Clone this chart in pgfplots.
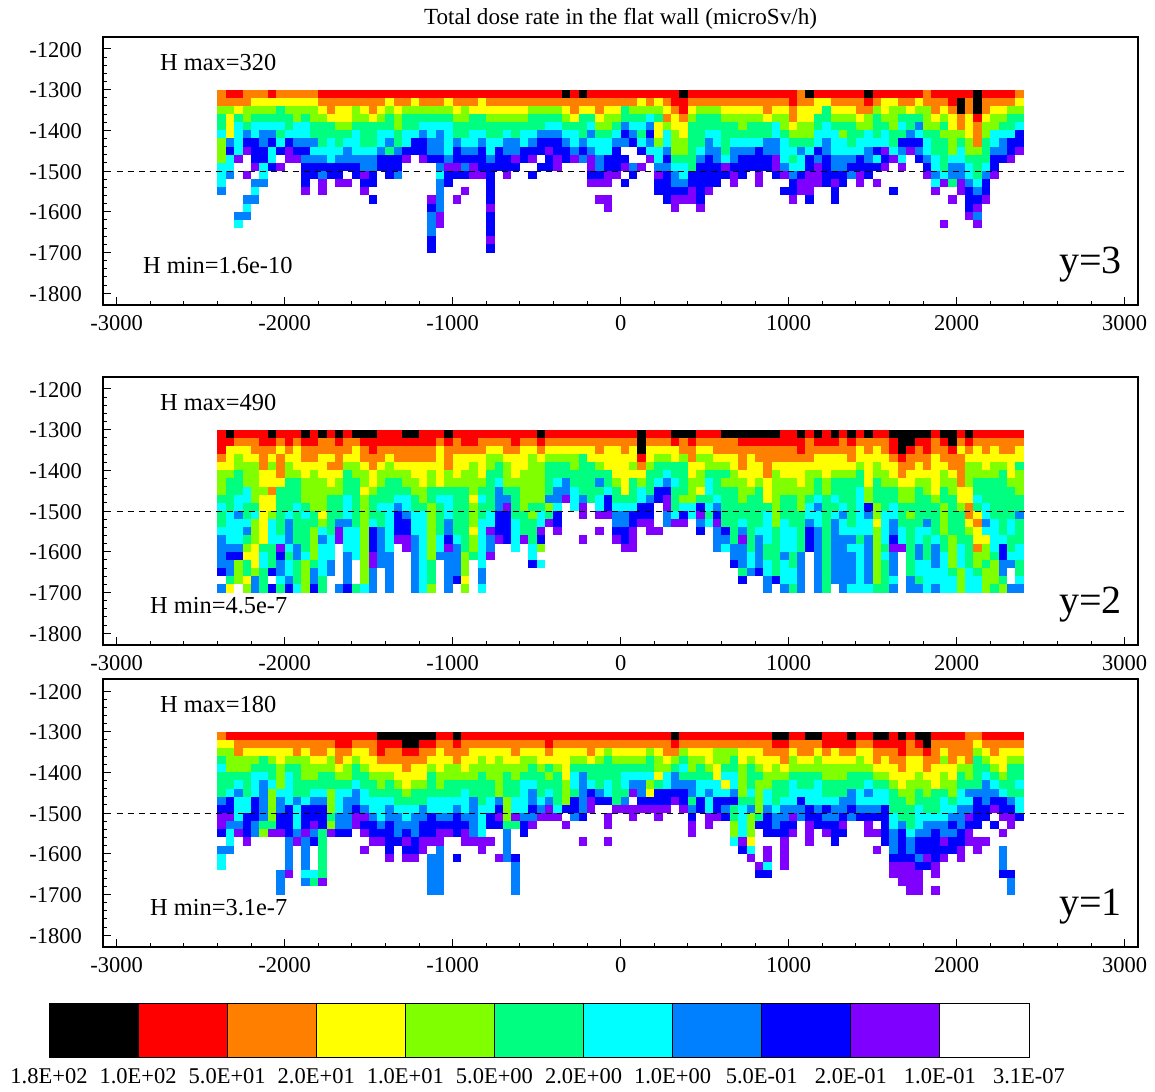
\documentclass[border=0pt]{standalone}
\usepackage{fontspec}
\setmainfont{Liberation Serif}
\usepackage{pgfplots}
\usepackage{pgfplotstable}
\pgfplotsset{compat=1.18}
\pgfdeclareplotmark{cell}{\pgfpathrectangle{\pgfpoint{-4.3pt}{-4.15pt}}{\pgfpoint{8.6pt}{8.3pt}}\pgfusepathqfill}
% level: 0 white, 1 purple, 2 blue, 3 azure, 4 cyan, 5 spring, 6 lime, 7 yellow, 8 orange, 9 red, 10 black
\pgfplotstableread[header=false]{
-1310 8 9 9 8 8 8 9 8 8 8 8 8 9 9 9 9 9 9 9 9 9 9 9 9 9 9 9 9 9 9 9 9  9 9 9 9 9 9 9 9 9 10 9 10 9 9 9 9 9 9 9 9 9 9 9 10 9 9 9 9 9 9 9 9 9  9 9 9 9 8 10 9 9 9 9 9 9 10 9 9 9 9 9 9 8 9 9 9 9 9 10 9 9 9 9 8
-1330 8 8 8 8 7 7 7 7 7 7 7 7 8 8 8 8 8 8 8 8 7 8 8 7 8 8 8 7 8 8 8 7  8 8 8 8 8 8 8 8 8 8 8 8 8 8 8 8 8 8 7 8 7 8 9 9 8 8 8 8 8 8 8 8 8  8 8 8 9 8 8 7 7 8 8 8 8 9 8 7 7 8 8 7 8 8 8 9 10 8 10 8 8 8 8 7
-1350 6 6 7 6 6 6 6 5 6 6 6 6 7 8 7 7 6 7 8 7 6 7 6 6 6 6 6 6 7 6 7 7  7 7 7 7 7 6 6 6 6 7 8 7 7 8 7 7 5 6 6 6 6 7 8 9 7 6 6 6 7 7 7 7 7  8 7 7 8 7 7 7 5 7 7 7 8 8 6 7 6 6 7 6 6 8 7 8 10 8 10 8 7 7 6 6
-1370 5 7 5 6 5 5 5 5 5 6 5 6 6 7 7 7 6 6 7 6 5 6 5 5 5 5 5 5 6 6 5 5  6 6 6 6 6 5 5 5 5 6 7 5 5 7 6 6 5 5 5 4 5 8 7 8 6 5 5 5 6 6 6 6 6  7 6 6 8 7 7 5 5 6 6 6 7 6 5 6 6 5 5 5 6 7 6 7 8 7 9 7 6 6 5 5
-1390 5 7 4 5 4 4 4 4 5 4 4 5 5 5 6 6 5 5 5 5 5 6 5 5 4 4 4 4 5 5 5 5  5 5 5 5 5 5 5 4 4 5 5 5 4 6 6 5 3 4 4 3 7 6 7 7 5 5 5 5 5 5 6 5 5  5 4 6 7 6 6 5 4 5 5 5 6 6 5 5 6 4 5 3 6 6 5 7 8 7 8 6 6 5 5 4
-1410 4 7 4 3 4 3 3 5 4 4 4 5 5 5 5 5 4 5 5 4 4 5 4 4 3 4 3 4 5 5 4 4  5 5 4 5 4 4 3 3 3 4 4 5 3 5 5 4 2 3 5 2 7 4 6 7 5 5 4 4 5 5 5 5 5  5 4 5 6 6 6 4 4 4 6 5 5 4 5 4 5 5 3 4 5 5 6 6 6 7 8 6 4 4 4 2
-1430 6 3 4 2 2 3 2 4 2 3 3 3 5 4 5 4 4 5 5 4 3 5 4 2 2 3 3 4 3 4 4 3  4 4 3 3 4 3 2 2 2 3 4 3 4 4 4 3 3 2 4 3 6 4 6 6 5 5 3 4 5 4 4 4 4  3 3 4 5 5 5 4 3 4 4 5 4 4 4 4 5 2 2 2 4 5 5 6 5 6 8 5 4 3 2 2
-1450 6 2 4 1 2 2 4 2 1 2 2 4 4 4 4 3 4 4 4 3 5 3 2 2 2 3 3 4 2 3 3 2  4 2 3 3 2 2 2 1 2 2 3 2 3 4 4 2 0 0 2 4 4 3 6 6 5 4 3 3 5 3 3 3 2  3 3 4 4 3 4 2 3 4 4 4 4 3 2 1 4 3 1 3 4 5 5 6 4 6 6 5 3 3 2 1
-1470 6 4 1 0 2 2 4 0 1 1 3 3 3 4 3 3 3 3 3 2 2 2 1 0 1 2 2 3 2 2 2 2  3 2 2 1 2 1 0 2 1 2 1 3 1 3 2 2 2 0 0 1 4 2 5 5 5 3 2 3 4 3 2 2 2  2 1 4 5 4 2 3 2 3 3 3 2 3 4 2 1 4 0 2 3 4 5 4 4 5 5 5 2 2 1 0
-1490 4 4 0 0 1 4 2 1 0 0 2 2 2 2 2 2 2 3 3 2 2 2 0 0 0 0 3 1 1 3 1 2  2 2 2 2 0 0 2 2 1 0 0 0 1 3 2 2 1 3 1 0 3 3 4 4 5 2 2 2 1 2 2 2 2  2 1 3 4 4 2 1 2 3 3 2 2 2 2 1 0 1 0 0 2 4 5 3 3 4 5 4 2 0 0 0
-1510 4 3 0 1 0 4 0 0 0 0 2 2 3 2 2 0 2 1 2 0 2 3 0 0 0 0 4 2 2 2 1 1  2 0 1 0 0 2 0 0 0 0 0 0 2 2 1 1 0 2 0 0 1 2 3 4 2 2 2 2 2 1 2 0 1  0 2 1 3 2 1 1 2 2 2 3 1 2 0 0 0 0 0 0 1 3 4 3 3 4 5 3 1 0 0 0
-1530 4 0 0 0 3 3 0 0 0 0 2 0 1 0 1 1 0 2 2 0 0 0 0 0 0 0 3 2 0 0 0 0  2 0 0 0 0 0 0 0 0 0 0 0 1 1 1 0 2 0 0 0 2 2 3 3 2 2 2 2 0 1 0 0 1  0 0 0 2 1 1 1 2 1 2 0 1 0 1 0 0 0 0 0 0 4 1 5 1 3 4 2 0 0 0 0
-1550 3 0 0 0 4 0 0 0 0 0 1 0 1 0 0 0 0 1 0 0 0 0 0 0 0 0 3 0 0 1 0 0  2 0 0 0 0 0 0 0 0 0 0 0 0 0 0 0 0 0 0 0 2 2 2 2 1 2 1 0 0 0 0 0 0  0 0 2 2 1 1 0 0 2 0 0 0 0 0 0 2 0 0 0 0 1 0 0 1 2 3 2 0 0 0 0
-1570 0 0 0 3 3 0 0 0 0 0 0 0 0 0 0 0 0 0 2 0 0 0 0 0 0 1 3 0 1 0 0 0  2 0 0 0 0 0 0 0 0 0 0 0 0 1 1 0 0 0 0 0 0 2 1 1 1 2 0 0 0 0 0 0 0  0 0 0 1 0 2 0 0 2 0 0 0 0 0 0 0 0 0 0 0 0 0 1 0 2 2 1 0 0 0 0
-1590 0 0 0 4 0 0 0 0 0 0 0 0 0 0 0 0 0 0 0 0 0 0 0 0 0 2 3 0 0 0 0 0  1 0 0 0 0 0 0 0 0 0 0 0 0 0 1 0 0 0 0 0 0 0 1 0 0 1 0 0 0 0 0 0 0  0 0 0 0 0 0 0 0 0 0 0 0 0 0 0 0 0 0 0 0 0 0 0 0 2 1 0 0 0 0 0
-1610 0 0 3 3 0 0 0 0 0 0 0 0 0 0 0 0 0 0 0 0 0 0 0 0 0 3 1 0 0 0 0 0  2 0 0 0 0 0 0 0 0 0 0 0 0 0 0 0 0 0 0 0 0 0 0 0 0 0 0 0 0 0 0 0 0  0 0 0 0 0 0 0 0 0 0 0 0 0 0 0 0 0 0 0 0 0 0 0 0 1 3 0 0 0 0 0
-1630 0 0 4 0 0 0 0 0 0 0 0 0 0 0 0 0 0 0 0 0 0 0 0 0 0 3 1 0 0 0 0 0  2 0 0 0 0 0 0 0 0 0 0 0 0 0 0 0 0 0 0 0 0 0 0 0 0 0 0 0 0 0 0 0 0  0 0 0 0 0 0 0 0 0 0 0 0 0 0 0 0 0 0 0 0 0 1 0 0 0 1 0 0 0 0 0
-1650 0 0 0 0 0 0 0 0 0 0 0 0 0 0 0 0 0 0 0 0 0 0 0 0 0 3 0 0 0 0 0 0  2 0 0 0 0 0 0 0 0 0 0 0 0 0 0 0 0 0 0 0 0 0 0 0 0 0 0 0 0 0 0 0 0  0 0 0 0 0 0 0 0 0 0 0 0 0 0 0 0 0 0 0 0 0 0 0 0 0 0 0 0 0 0 0
-1670 0 0 0 0 0 0 0 0 0 0 0 0 0 0 0 0 0 0 0 0 0 0 0 0 0 2 0 0 0 0 0 0  1 0 0 0 0 0 0 0 0 0 0 0 0 0 0 0 0 0 0 0 0 0 0 0 0 0 0 0 0 0 0 0 0  0 0 0 0 0 0 0 0 0 0 0 0 0 0 0 0 0 0 0 0 0 0 0 0 0 0 0 0 0 0 0
-1690 0 0 0 0 0 0 0 0 0 0 0 0 0 0 0 0 0 0 0 0 0 0 0 0 0 2 0 0 0 0 0 0  2 0 0 0 0 0 0 0 0 0 0 0 0 0 0 0 0 0 0 0 0 0 0 0 0 0 0 0 0 0 0 0 0  0 0 0 0 0 0 0 0 0 0 0 0 0 0 0 0 0 0 0 0 0 0 0 0 0 0 0 0 0 0 0
}\tabA
\pgfplotstableread[header=false]{
-1310 9 10 9 9 9 9 10 9 9 9 10 9 10 9 10 9 10 10 10 9 9 9 10 10 9 9 9 10 9 9 9 9  9 9 9 9 9 9 10 9 9 9 9 9 9 9 9 9 9 9 10 9 9 9 10 10 10 9 9 9 10 10 10 10 10  10 10 9 9 10 9 10 9 10 9 10 9 10 9 9 10 10 10 10 10 9 10 10 9 10 9 9 9 9 9 9
-1330 9 9 8 8 8 9 9 8 9 8 9 9 8 8 9 8 8 9 9 9 9 9 9 9 9 9 8 9 8 9 9 8  8 8 8 9 8 8 9 8 8 8 8 8 8 8 8 8 8 8 10 8 8 8 9 8 9 8 8 8 8 8 9 9 9  9 9 9 9 9 8 9 9 9 8 9 8 8 8 8 9 10 10 9 9 8 9 10 8 9 8 8 8 8 8 8
-1350 9 7 7 7 8 8 8 7 8 7 8 8 8 8 8 8 7 8 9 8 8 8 8 8 8 8 7 8 8 8 8 8  7 7 8 8 7 7 8 7 7 7 7 7 7 8 7 7 8 7 10 7 7 7 7 8 8 7 7 8 8 8 8 8 8  8 8 8 8 9 8 8 8 8 8 8 7 8 7 8 9 10 9 8 9 8 8 9 7 8 7 8 7 8 8 7
-1370 8 7 6 7 7 8 7 8 7 7 8 8 7 7 8 7 7 8 8 8 7 8 8 8 8 8 7 8 7 7 7 7  6 6 7 7 7 6 7 6 6 6 6 5 7 7 7 7 7 7 9 7 6 6 7 6 8 6 6 7 7 7 8 7 8  8 8 8 8 8 8 7 7 7 7 8 7 7 7 7 8 9 8 8 8 7 8 8 8 7 7 7 7 7 7 7
-1390 7 7 6 6 6 8 6 8 6 7 7 7 7 8 8 6 6 7 8 7 6 7 7 7 7 7 7 8 7 7 6 7  6 5 6 7 7 6 6 5 5 5 6 5 5 6 7 7 7 6 8 6 5 5 5 5 7 7 6 6 6 7 8 7 7  8 7 7 7 7 7 7 7 7 7 7 6 7 6 7 7 8 8 7 8 7 7 8 8 6 6 7 6 6 7 5
-1410 6 6 5 6 6 7 7 8 6 6 7 6 7 7 7 5 6 6 7 6 6 6 6 7 7 6 7 6 7 6 6 7  5 5 6 7 6 6 6 5 5 5 5 5 5 5 5 7 7 7 7 5 5 4 5 5 7 6 5 5 5 6 7 7 7  8 6 7 7 7 6 6 7 6 6 6 5 7 6 6 7 8 7 7 7 7 6 7 8 6 6 6 6 5 7 6
-1430 6 5 5 6 6 7 7 7 5 5 6 6 6 7 6 5 5 6 7 6 5 5 6 6 7 6 7 6 6 6 6 6  5 4 6 6 6 6 6 5 4 3 5 5 5 3 5 6 7 5 6 5 4 3 4 5 6 6 4 5 6 6 6 7 6  7 6 6 6 7 6 5 6 5 5 5 5 7 5 6 6 7 7 6 6 7 6 6 8 6 5 5 5 5 6 6
-1450 6 5 5 4 6 6 8 5 5 5 6 6 6 6 6 5 5 7 6 5 5 5 5 6 6 5 5 5 5 5 6 5  5 3 5 5 6 6 6 5 3 3 4 5 5 5 4 5 7 5 4 5 2 2 5 5 6 7 4 5 5 5 6 6 5  7 6 6 6 6 6 5 6 5 5 5 4 6 5 5 5 6 6 5 6 7 5 6 7 7 5 5 5 5 5 6
-1470 5 5 4 4 6 7 7 5 5 5 6 6 6 5 5 4 5 6 5 5 5 4 4 5 6 5 4 4 5 5 7 4  5 3 3 5 6 6 6 3 3 1 4 3 5 4 2 5 5 5 4 3 2 1 5 6 6 5 5 4 5 5 6 5 5  7 6 5 5 6 5 4 5 4 5 5 4 6 5 5 5 6 6 5 5 6 5 5 7 7 4 5 5 5 5 5
-1490 4 5 4 5 5 7 7 5 5 4 5 6 6 5 5 4 5 6 5 4 4 3 4 5 5 6 5 4 5 5 6 5  5 3 1 5 6 5 5 6 4 0 4 1 0 4 2 4 4 4 2 2 0 1 5 4 4 2 4 3 5 5 5 5 5  5 6 5 5 6 4 3 5 5 4 5 4 2 6 5 4 5 5 5 5 5 6 5 6 8 5 4 5 5 5 5
-1510 5 4 3 5 4 7 6 5 4 5 4 5 7 5 5 4 5 6 5 5 4 2 3 4 4 6 5 4 5 5 6 5  4 2 2 5 5 6 4 5 2 0 0 1 0 1 1 3 3 2 2 2 0 3 4 2 4 1 5 2 5 5 5 5 5  4 6 5 5 5 4 4 5 4 3 5 4 3 6 4 4 5 6 5 5 5 6 5 5 8 7 4 5 5 5 3
-1530 5 4 4 4 6 7 4 5 3 5 5 5 6 5 3 3 5 6 4 5 4 2 2 4 4 6 5 3 5 5 6 4  4 2 2 4 5 5 4 1 2 0 0 0 0 0 0 3 3 2 1 1 0 3 1 1 0 3 4 1 5 5 4 5 5  4 6 4 5 5 3 4 5 3 4 5 4 4 7 4 3 5 5 5 3 5 6 5 5 7 8 3 4 5 4 5
-1550 4 4 4 3 6 7 4 5 3 5 5 6 4 5 1 4 4 6 2 3 4 2 2 4 4 6 5 3 5 5 7 4  1 2 2 4 5 5 1 0 1 0 0 0 0 1 0 2 2 1 0 1 1 0 0 0 0 2 0 3 2 5 3 5 4  4 5 4 4 5 2 3 5 3 4 4 4 4 6 4 3 4 5 4 4 5 6 5 5 6 7 4 4 5 4 5
-1570 3 4 4 5 6 7 4 4 3 5 5 6 3 4 1 4 4 6 2 3 4 1 1 3 4 6 4 2 4 5 6 4  3 1 2 4 1 5 2 0 0 0 0 1 0 0 0 1 2 1 0 0 0 0 0 0 0 0 0 3 3 5 1 5 3  4 5 4 4 5 2 3 5 3 3 3 5 3 6 4 2 4 5 4 5 4 5 6 5 5 7 7 4 4 5 5
-1590 3 3 3 6 7 5 5 1 4 3 5 6 4 4 0 4 4 6 2 3 4 0 1 3 4 6 4 1 3 5 6 4  3 0 0 4 0 4 6 0 0 0 0 0 0 0 0 0 1 1 0 0 0 0 0 0 0 0 0 3 4 3 3 5 3  5 5 4 4 5 2 3 5 3 3 4 4 3 6 5 1 1 5 3 5 3 5 6 4 5 8 6 4 2 5 4
-1610 3 2 2 7 7 4 5 2 5 3 4 6 4 4 0 3 4 6 1 3 3 0 0 3 4 6 3 3 3 6 5 4  1 0 0 0 0 4 0 0 0 0 0 0 0 0 0 0 0 0 0 0 0 0 0 0 0 0 0 0 0 3 3 4 3  5 5 3 5 3 0 3 5 3 3 3 4 3 6 4 3 0 5 3 5 3 4 6 4 5 6 6 5 2 4 4
-1630 3 3 6 5 7 4 5 3 4 5 6 5 4 3 0 3 0 6 1 3 3 0 0 3 4 5 0 3 3 6 0 4  0 0 0 0 0 2 4 0 0 0 0 0 0 0 0 0 0 0 0 0 0 0 0 0 0 0 0 0 0 2 3 4 3  4 5 4 5 3 0 3 5 3 3 3 4 3 6 5 3 0 5 4 4 3 4 6 4 5 6 5 6 3 3 5
-1650 2 3 6 5 6 5 2 3 4 5 6 3 4 3 0 3 0 6 3 0 3 0 0 3 4 5 0 3 3 6 0 3  0 0 0 0 0 0 0 0 0 0 0 0 0 0 0 0 0 0 0 0 0 0 0 0 0 0 0 0 0 0 5 3 2  4 5 4 4 3 0 3 5 3 3 3 4 3 6 5 3 0 5 4 4 4 4 5 6 4 5 6 6 3 0 5
-1670 0 5 6 7 3 5 0 4 3 5 6 3 5 0 0 3 0 6 3 0 3 0 0 3 4 5 0 3 2 7 0 3  0 0 0 0 0 0 0 0 0 0 0 0 0 0 0 0 0 0 0 0 0 0 0 0 0 0 0 0 0 0 2 0 0  3 2 4 4 3 0 3 5 3 3 3 4 3 6 5 4 0 3 5 4 4 4 4 6 4 4 6 6 5 0 4
-1690 3 7 0 6 3 5 2 5 2 4 6 2 5 0 3 2 5 4 3 0 3 0 0 3 4 6 0 3 0 6 0 4  0 0 0 0 0 0 0 0 0 0 0 0 0 0 0 0 0 0 0 0 0 0 0 0 0 0 0 0 0 0 0 0 0  3 0 3 5 3 0 3 5 0 3 4 4 4 5 5 3 0 3 3 4 3 4 4 6 4 4 6 5 6 3 3
}\tabB
\pgfplotstableread[header=false]{
-1310 8 9 9 9 9 9 9 9 9 9 9 9 9 9 9 9 9 9 9 10 10 10 10 10 10 10 9 9 10 9 9 9  9 9 9 9 9 9 9 9 9 9 9 9 9 9 9 9 9 9 9 9 9 9 10 9 9 9 9 9 9 9 9 9 9  9 10 10 9 9 10 10 9 9 9 10 9 9 10 10 9 10 9 10 10 9 9 9 9 8 8 9 9 9 9 9
-1330 7 7 8 8 8 8 8 8 8 8 8 8 8 8 9 9 8 8 8 9 9 9 10 10 9 9 8 8 9 8 8 8  8 8 8 8 8 8 8 9 8 8 8 8 8 8 8 8 8 8 8 8 8 8 9 8 8 8 8 8 8 8 8 8 8  8 9 9 8 8 8 8 9 9 9 9 8 8 9 9 9 9 8 9 10 8 8 8 8 8 7 8 8 8 8 8
-1350 6 6 8 7 7 7 7 7 7 8 7 8 8 7 8 8 7 7 8 9 8 8 9 9 8 8 7 8 8 8 7 7  7 7 7 8 7 7 7 8 7 7 7 7 8 7 6 7 7 7 7 6 7 8 8 6 7 7 7 6 6 6 7 7 7  8 8 8 7 8 8 7 8 7 8 8 7 7 8 8 8 9 8 8 9 8 7 8 8 8 6 7 8 7 7 7
-1370 5 6 6 6 6 5 6 7 6 6 6 7 7 6 8 7 6 7 7 8 8 8 8 8 8 7 7 7 8 7 7 6  7 6 7 7 6 6 7 7 7 7 6 6 7 6 5 6 6 6 6 5 6 7 6 5 6 6 7 6 6 5 7 6 7  7 7 8 6 7 7 6 7 7 7 7 6 7 8 7 8 8 7 7 8 8 6 8 7 8 5 6 7 7 6 6
-1390 4 6 6 6 5 5 5 6 5 5 6 6 6 6 7 6 5 6 7 7 7 7 8 7 7 6 7 6 6 7 6 6  6 6 6 6 6 5 6 5 6 7 5 5 5 5 5 5 5 5 5 5 6 6 5 4 6 5 6 7 5 5 6 5 6  7 6 7 6 6 6 6 6 6 6 6 6 6 7 7 7 8 7 7 8 7 7 7 6 6 5 5 6 7 5 5
-1410 5 5 5 5 4 4 5 6 4 5 6 6 5 5 6 6 5 5 6 6 6 7 7 7 7 5 6 6 6 6 6 5  6 6 5 6 5 5 5 6 5 7 4 3 5 5 5 5 4 4 4 4 7 4 3 5 5 5 5 7 4 4 6 5 5  6 6 6 5 5 5 5 6 6 6 5 5 5 6 6 7 7 7 6 7 7 6 7 5 6 5 4 5 6 5 5
-1430 5 5 4 5 4 3 4 6 4 5 5 5 5 5 5 5 4 5 5 6 5 6 7 6 6 5 6 5 5 5 5 5  5 6 5 5 4 4 5 5 5 6 4 3 4 5 4 5 4 3 3 6 5 4 3 3 3 4 4 4 7 4 6 5 6  6 5 5 4 5 5 4 5 5 5 5 5 4 5 5 6 7 6 6 6 7 6 6 5 5 5 3 4 5 5 4
-1450 5 4 3 5 4 3 6 4 4 5 5 4 4 6 4 4 3 4 5 5 5 5 6 5 5 5 5 5 5 4 5 5  5 6 5 5 4 3 5 4 5 6 5 3 2 3 4 5 5 1 3 7 2 2 2 2 3 4 3 4 4 3 6 4 6  4 5 5 4 4 4 4 5 5 5 3 4 3 4 4 5 6 6 5 6 5 5 6 4 3 3 3 3 4 5 5
-1470 3 2 4 4 2 3 6 3 4 3 4 3 3 6 4 3 3 4 4 4 4 5 5 5 5 4 4 4 4 4 3 5  4 3 6 4 4 3 4 3 5 6 2 3 1 2 2 5 3 0 2 2 2 2 1 2 5 2 4 2 2 2 5 5 6  4 5 4 4 2 4 4 4 4 3 3 4 4 4 4 5 5 6 5 5 5 4 5 4 4 2 3 2 2 3 4
-1490 2 2 4 4 2 3 6 3 2 4 2 2 2 6 4 3 2 3 4 4 3 4 4 4 3 4 4 4 3 4 3 4  4 2 6 4 4 2 3 1 4 2 2 3 1 0 0 1 1 1 1 1 1 1 0 1 3 2 4 2 3 5 4 3 6  3 4 3 3 3 2 3 2 3 3 2 3 3 3 2 5 5 5 4 5 5 4 4 3 3 2 2 1 2 2 4
-1510 1 1 4 2 2 3 6 2 2 4 2 2 2 5 3 3 1 1 3 4 3 3 4 3 3 2 3 3 2 3 3 4  2 1 6 1 3 3 1 1 1 0 3 2 0 0 1 0 0 1 0 0 1 0 0 0 2 0 1 1 2 5 4 6 5  2 3 3 1 3 2 2 3 3 2 3 2 2 2 2 4 5 5 4 4 4 4 3 3 1 2 2 0 1 1 2
-1530 1 3 3 2 3 5 5 2 2 4 2 1 2 6 3 3 1 2 2 3 2 3 3 3 2 2 2 2 2 2 3 4  2 2 5 5 2 1 0 0 0 1 0 0 0 0 1 0 0 0 0 0 0 0 0 0 1 0 1 0 0 6 4 6 2  2 3 2 2 0 1 2 2 2 1 0 0 1 0 2 4 3 5 4 3 3 3 2 3 2 2 0 2 0 1 0
-1550 2 4 1 2 3 6 1 1 2 3 1 3 5 1 2 2 0 1 2 2 2 3 2 3 2 2 1 1 2 1 3 4  0 0 3 0 2 0 0 0 0 0 0 0 0 0 0 0 0 0 0 0 0 0 0 0 1 0 0 0 0 6 4 6 0  2 2 2 1 0 1 0 1 2 2 0 0 1 1 2 3 2 4 3 3 2 3 3 2 1 0 0 0 1 0 0
-1570 0 4 0 1 0 0 0 0 3 1 3 2 5 0 0 0 0 0 1 1 2 2 1 2 1 1 1 0 0 1 1 1  1 0 3 0 0 0 0 0 0 0 0 1 0 0 1 0 0 0 0 0 0 0 0 0 0 0 0 0 0 4 1 7 0  0 0 1 0 0 1 0 0 2 0 0 0 0 0 2 3 2 3 2 2 2 1 2 2 1 1 1 0 0 0 0
-1590 3 3 0 0 0 0 0 0 3 0 3 0 5 0 0 0 0 1 0 0 2 0 2 2 1 0 3 0 0 0 0 1  0 0 3 0 0 0 0 0 0 0 0 0 0 0 0 0 0 0 0 0 0 0 0 0 0 0 0 0 0 0 2 4 0  1 0 1 0 0 0 0 0 0 0 0 0 0 1 0 3 2 3 2 2 2 2 2 1 0 1 0 0 3 0 0
-1610 4 0 0 0 0 0 0 0 3 0 3 0 5 0 0 0 0 0 0 0 1 0 1 1 0 3 3 0 2 0 0 0  0 1 3 2 0 0 0 0 0 0 0 0 0 0 0 0 0 0 0 0 0 0 0 0 0 0 0 0 0 0 0 1 0  1 0 1 0 0 0 0 0 0 0 0 0 0 0 0 2 2 2 3 1 2 1 0 1 0 0 0 0 3 0 0
-1630 4 0 0 0 0 0 0 0 3 0 3 0 5 0 0 0 0 0 0 0 0 0 0 0 0 3 3 0 0 0 0 0  0 0 0 3 0 0 0 0 0 0 0 0 0 0 0 0 0 0 0 0 0 0 0 0 0 0 0 0 0 0 0 0 1  4 0 1 0 0 0 0 0 0 0 0 0 0 0 0 1 1 1 2 2 1 0 0 0 0 0 0 0 3 0 0
-1650 0 0 0 0 0 0 0 3 1 0 4 4 5 0 0 0 0 0 0 0 0 0 0 0 0 3 3 0 0 0 0 0  0 0 0 3 0 0 0 0 0 0 0 0 0 0 0 0 0 0 0 0 0 0 0 0 0 0 0 0 0 0 0 0 2  2 0 0 0 0 0 0 0 0 0 0 0 0 0 0 1 1 1 1 0 1 0 0 0 0 0 0 0 2 2 0
-1670 0 0 0 0 0 0 0 3 0 0 3 5 1 0 0 0 0 0 0 0 0 0 0 0 0 3 3 0 0 0 0 0  0 0 0 3 0 0 0 0 0 0 0 0 0 0 0 0 0 0 0 0 0 0 0 0 0 0 0 0 0 0 0 0 0  0 0 0 0 0 0 0 0 0 0 0 0 0 0 0 0 1 1 1 0 0 0 0 0 0 0 0 0 0 3 0
-1690 0 0 0 0 0 0 0 3 0 0 0 0 0 0 0 0 0 0 0 0 0 0 0 0 0 3 3 0 0 0 0 0  0 0 0 3 0 0 0 0 0 0 0 0 0 0 0 0 0 0 0 0 0 0 0 0 0 0 0 0 0 0 0 0 0  0 0 0 0 0 0 0 0 0 0 0 0 0 0 0 0 0 1 1 0 1 0 0 0 0 0 0 0 0 3 0
}\tabC
\definecolor{c0}{RGB}{255,255,255}
\definecolor{c1}{RGB}{128,0,255}
\definecolor{c2}{RGB}{0,0,255}
\definecolor{c3}{RGB}{0,128,255}
\definecolor{c4}{RGB}{0,255,255}
\definecolor{c5}{RGB}{0,255,128}
\definecolor{c6}{RGB}{128,255,0}
\definecolor{c7}{RGB}{255,255,0}
\definecolor{c8}{RGB}{255,128,0}
\definecolor{c9}{RGB}{255,0,0}
\definecolor{c10}{RGB}{0,0,0}
\newcommand{\ticksz}{\fontsize{22.5}{24}\selectfont}
\newcommand{\annsz}{\fontsize{24.4}{26}\selectfont}
\newcommand{\bigsz}{\fontsize{40}{42}\selectfont}
\pgfplotsset{
  dosemap/.style={
    scale only axis, width=1035pt, height=268pt,
    anchor=south west,
    xmin=-3081, xmax=3079, ymin=-1829, ymax=-1170.5,
    xtick={-3000,-2000,-1000,0,1000,2000,3000},
    ytick={-1200,-1300,-1400,-1500,-1600,-1700,-1800},
    minor x tick num=4, minor y tick num=4,
    xtick pos=bottom, ytick pos=left, tick align=inside,
    major tick length=8pt, minor tick length=4pt,
    every tick/.style={black,line width=1pt},
    axis line style={line width=1.1pt},
    scaled ticks=false,
    clip mode=individual,
    /pgf/number format/assume math mode=true,
    /pgf/number format/1000 sep={},
    tick label style={font=\ticksz, inner sep=0pt},
    yticklabel style={yshift=-0.7pt},
    xticklabel shift=10.5pt, yticklabel shift=21pt,
    colormap={lev}{rgb255=(255,255,255) rgb255=(128,0,255) rgb255=(0,0,255) rgb255=(0,128,255) rgb255=(0,255,255) rgb255=(0,255,128) rgb255=(128,255,0) rgb255=(255,255,0) rgb255=(255,128,0) rgb255=(255,0,0) rgb255=(0,0,0)},
    colormap access=piecewise constant,
    point meta min=-0.5, point meta max=10.5,
  },
  cellplot/.style={scatter, only marks, mark=cell, scatter src=explicit},
}
\begin{document}
\begin{tikzpicture}
\path[use as bounding box] (0,0) rectangle (1155pt,1091pt);
\begin{axis}[dosemap, at={(103pt,786pt)}]
\pgfplotsinvokeforeach{1,...,96}{\addplot[cellplot] table[x expr={-2425+50*#1}, y index=0, meta index=#1]{\tabA};}
\addplot[black, line width=0.9pt, dash pattern=on 6pt off 5pt] coordinates {(-3000,-1500) (3000,-1500)};
\end{axis}
\begin{axis}[dosemap, at={(103pt,446pt)}]
\pgfplotsinvokeforeach{1,...,96}{\addplot[cellplot] table[x expr={-2425+50*#1}, y index=0, meta index=#1]{\tabB};}
\addplot[black, line width=0.9pt, dash pattern=on 6pt off 5pt] coordinates {(-3000,-1500) (3000,-1500)};
\end{axis}
\begin{axis}[dosemap, at={(103pt,144pt)}]
\pgfplotsinvokeforeach{1,...,96}{\addplot[cellplot] table[x expr={-2425+50*#1}, y index=0, meta index=#1]{\tabC};}
\addplot[black, line width=0.9pt, dash pattern=on 6pt off 5pt] coordinates {(-3000,-1500) (3000,-1500)};
\end{axis}
\begin{axis}[scale only axis, width=980pt, height=54pt, anchor=south west, at={(49pt,34pt)},
  xmin=0, xmax=11, ymin=0, ymax=1, ytick=\empty,
  xtick={0,1,2,3,4,5,6,7,8,9,10,11},
  xticklabels={1.8E+02,1.0E+02,5.0E+01,2.0E+01,1.0E+01,5.0E+00,2.0E+00,1.0E+00,5.0E-01,2.0E-01,1.0E-01,3.1E-07},
  major tick length=0pt, tick label style={font=\ticksz, inner sep=0pt}, xticklabel shift=11pt,
  axis line style={line width=1pt}, axis on top]
\addplot[fill=c10, draw=black, line width=1pt] coordinates {(0,0) (1,0) (1,1) (0,1)} --cycle;
\addplot[fill=c9, draw=black, line width=1pt] coordinates {(1,0) (2,0) (2,1) (1,1)} --cycle;
\addplot[fill=c8, draw=black, line width=1pt] coordinates {(2,0) (3,0) (3,1) (2,1)} --cycle;
\addplot[fill=c7, draw=black, line width=1pt] coordinates {(3,0) (4,0) (4,1) (3,1)} --cycle;
\addplot[fill=c6, draw=black, line width=1pt] coordinates {(4,0) (5,0) (5,1) (4,1)} --cycle;
\addplot[fill=c5, draw=black, line width=1pt] coordinates {(5,0) (6,0) (6,1) (5,1)} --cycle;
\addplot[fill=c4, draw=black, line width=1pt] coordinates {(6,0) (7,0) (7,1) (6,1)} --cycle;
\addplot[fill=c3, draw=black, line width=1pt] coordinates {(7,0) (8,0) (8,1) (7,1)} --cycle;
\addplot[fill=c2, draw=black, line width=1pt] coordinates {(8,0) (9,0) (9,1) (8,1)} --cycle;
\addplot[fill=c1, draw=black, line width=1pt] coordinates {(9,0) (10,0) (10,1) (9,1)} --cycle;
\addplot[fill=c0, draw=black, line width=1pt] coordinates {(10,0) (11,0) (11,1) (10,1)} --cycle;
\end{axis}
\node[anchor=base, inner sep=0pt, font=\fontsize{23.1}{25}\selectfont] at (620.5pt,1066pt) {Total dose rate in the flat wall (microSv/h)};
\node[anchor=base west, inner sep=0pt, font=\annsz] at (160pt,1020pt) {H max=320};
\node[anchor=base west, inner sep=0pt, font=\annsz] at (143pt,817pt) {H min=1.6e-10};
\node[anchor=base west, inner sep=0pt, font=\bigsz] at (1059pt,817pt) {y=3};
\node[anchor=base west, inner sep=0pt, font=\annsz] at (160pt,680pt) {H max=490};
\node[anchor=base west, inner sep=0pt, font=\annsz] at (150pt,477pt) {H min=4.5e-7};
\node[anchor=base west, inner sep=0pt, font=\bigsz] at (1059pt,477pt) {y=2};
\node[anchor=base west, inner sep=0pt, font=\annsz] at (160pt,378pt) {H max=180};
\node[anchor=base west, inner sep=0pt, font=\annsz] at (150pt,175pt) {H min=3.1e-7};
\node[anchor=base west, inner sep=0pt, font=\bigsz] at (1059pt,175pt) {y=1};
\end{tikzpicture}
\end{document}
